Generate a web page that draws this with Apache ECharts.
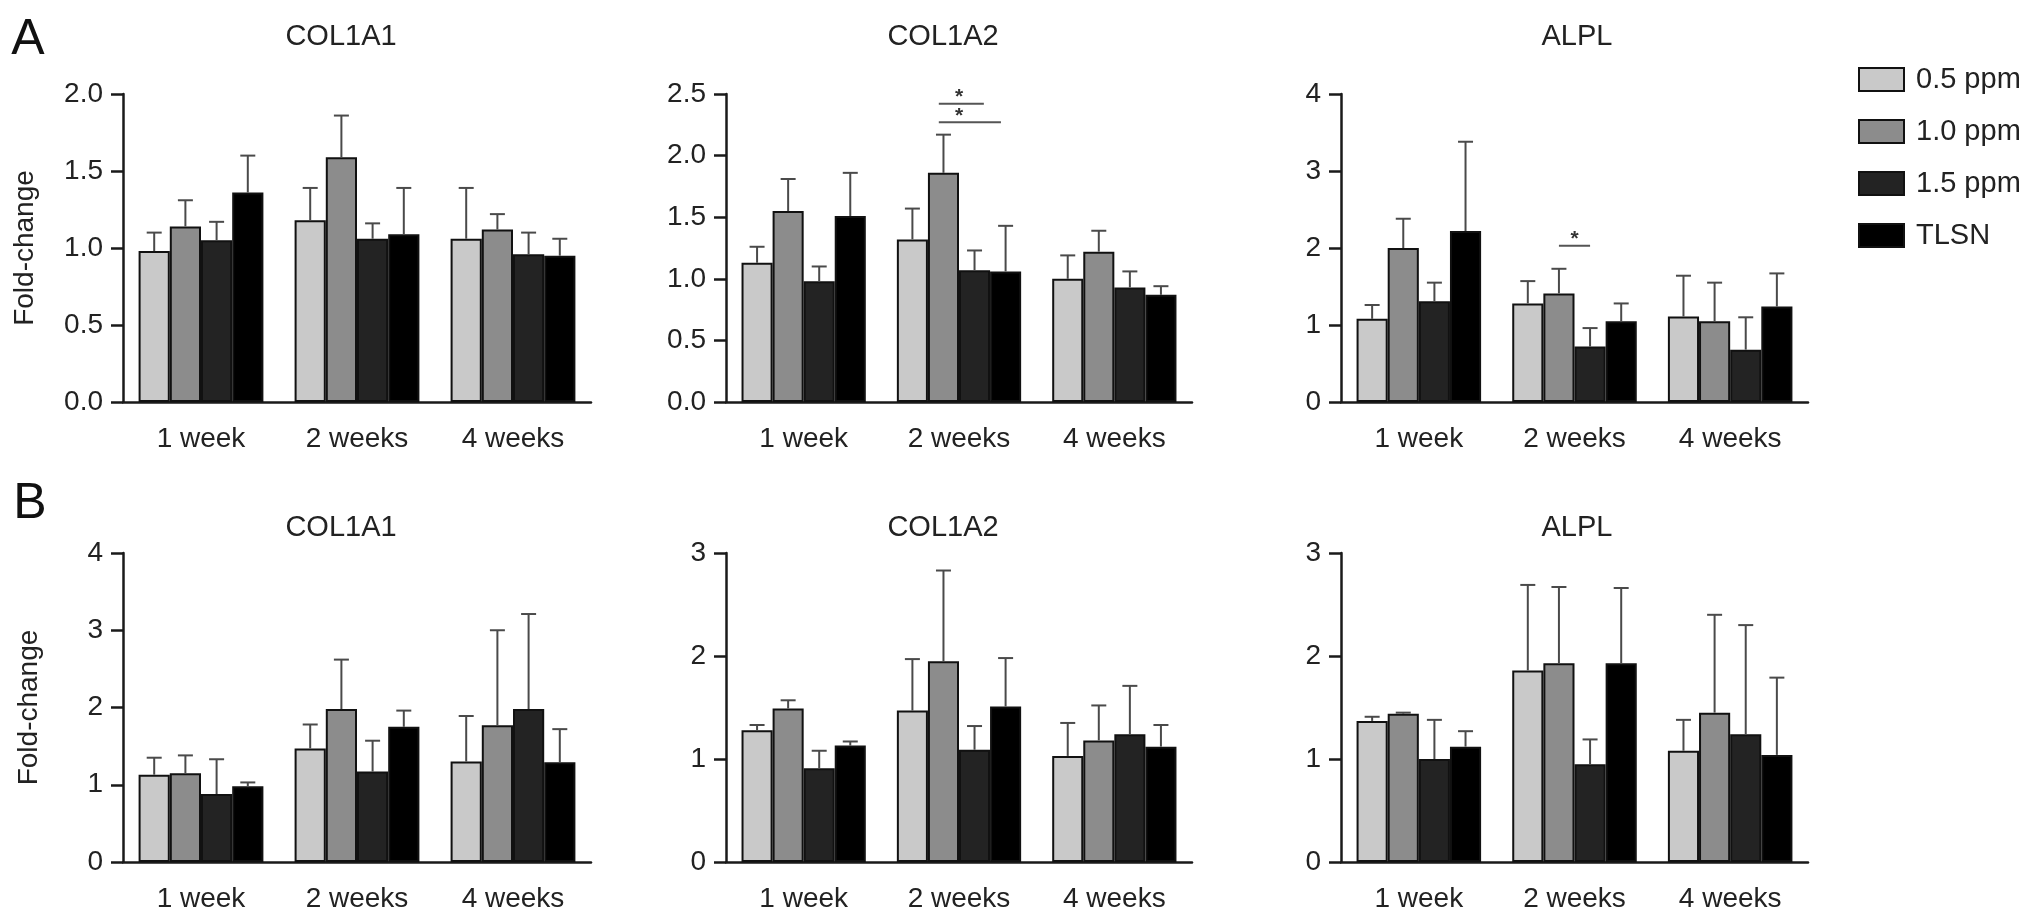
<!DOCTYPE html>
<html>
<head>
<meta charset="utf-8">
<script src="https://cdn.jsdelivr.net/npm/echarts@6/dist/echarts.min.js"></script>
<style>html,body{margin:0;padding:0;background:#fff;}#c{width:2032px;height:922px;}</style>
</head>
<body>
<div id="c"></div>
<script>
// ---------- data ----------
const categories = ['1 week', '2 weeks', '4 weeks'];
const seriesNames = ['0.5 ppm', '1.0 ppm', '1.5 ppm', 'TLSN'];
const barColors = ['#c9c9c9', '#8c8c8c', '#232323', '#000000'];

// Panel A - COL1A1 (rows = series, cols = categories)
const aCol1a1Mean  = [[0.98, 1.18, 1.06], [1.14, 1.59, 1.12], [1.05, 1.06, 0.96], [1.36, 1.09, 0.95]];
const aCol1a1Upper = [[1.10, 1.39, 1.39], [1.31, 1.86, 1.22], [1.17, 1.16, 1.10], [1.60, 1.39, 1.06]];
// Panel A - COL1A2
const aCol1a2Mean  = [[1.13, 1.32, 1.00], [1.55, 1.86, 1.22], [0.98, 1.07, 0.93], [1.51, 1.06, 0.87]];
const aCol1a2Upper = [[1.26, 1.57, 1.19], [1.81, 2.17, 1.39], [1.10, 1.23, 1.06], [1.86, 1.43, 0.94]];
// Panel A - ALPL
const aAlplMean    = [[1.08, 1.28, 1.11], [2.00, 1.41, 1.05], [1.31, 0.72, 0.68], [2.22, 1.05, 1.24]];
const aAlplUpper   = [[1.26, 1.57, 1.64], [2.38, 1.73, 1.55], [1.55, 0.96, 1.10], [3.38, 1.28, 1.67]];
// Panel B - COL1A1
const bCol1a1Mean  = [[1.13, 1.47, 1.30], [1.15, 1.98, 1.77], [0.88, 1.17, 1.98], [0.98, 1.75, 1.29]];
const bCol1a1Upper = [[1.35, 1.78, 1.89], [1.38, 2.62, 3.00], [1.33, 1.57, 3.21], [1.03, 1.96, 1.72]];
// Panel B - COL1A2
const bCol1a2Mean  = [[1.28, 1.47, 1.03], [1.49, 1.95, 1.18], [0.91, 1.09, 1.24], [1.13, 1.51, 1.12]];
const bCol1a2Upper = [[1.33, 1.97, 1.35], [1.57, 2.83, 1.52], [1.08, 1.32, 1.71], [1.17, 1.98, 1.33]];
// Panel B - ALPL
const bAlplMean    = [[1.37, 1.86, 1.08], [1.44, 1.93, 1.45], [1.00, 0.95, 1.24], [1.12, 1.93, 1.04]];
const bAlplUpper   = [[1.41, 2.69, 1.38], [1.45, 2.67, 2.40], [1.38, 1.19, 2.30], [1.27, 2.66, 1.79]];

// significance brackets: [category index, y value, from bar, to bar, star bar position]
const aCol1a2Sig = [[1, 2.42, 0.85, 2.3, 1.5], [1, 2.27, 0.85, 2.85, 1.5]];
const aAlplSig   = [[1, 2.03, 1, 2, 1.5]];

// axis ranges: [max, interval, decimals]
const yRanges = [[2, 0.5, 1], [2.5, 0.5, 1], [4, 1, 0], [4, 1, 0], [3, 1, 0], [3, 1, 0]];
const panelTitles = ['COL1A1', 'COL1A2', 'ALPL', 'COL1A1', 'COL1A2', 'ALPL'];

// ---------- layout ----------
const FONT = 'Liberation Sans, Arial, Helvetica, sans-serif';
const colLeft = [123, 726, 1341];
const colWidth = [468, 466, 467];
const rowTop = [94, 553];
const rowHeight = [308, 309];
const titleX = [341, 943, 1577];
const titleY = [37, 528];

const panels = [
  {mean: aCol1a1Mean, upper: aCol1a1Upper, sig: null},
  {mean: aCol1a2Mean, upper: aCol1a2Upper, sig: aCol1a2Sig},
  {mean: aAlplMean, upper: aAlplUpper, sig: aAlplSig},
  {mean: bCol1a1Mean, upper: bCol1a1Upper, sig: null},
  {mean: bCol1a2Mean, upper: bCol1a2Upper, sig: null},
  {mean: bAlplMean, upper: bAlplUpper, sig: null}
];

const BAR_FRAC = 0.8; // barCategoryGap 20%
const grids = [], xAxes = [], yAxes = [], series = [], graphics = [];

panels.forEach((p, i) => {
  const r = Math.floor(i / 3), c = i % 3;
  grids.push({left: colLeft[c], top: rowTop[r], width: colWidth[c], height: rowHeight[r]});
  xAxes.push({
    type: 'category', gridIndex: i, data: categories,
    axisLine: {lineStyle: {color: '#1a1a1a', width: 2.5}},
    axisTick: {alignWithLabel: true, length: 11, lineStyle: {color: '#1a1a1a', width: 2.5}},
    axisLabel: {color: '#222', fontSize: 28, fontFamily: FONT, margin: 23}
  });
  const yr = yRanges[i];
  yAxes.push({
    type: 'value', gridIndex: i, min: 0, max: yr[0], interval: yr[1],
    name: c === 0 ? 'Fold-change' : '', nameLocation: 'middle', nameGap: r === 0 ? 84 : 80,
    nameTextStyle: {color: '#222', fontSize: 28, fontFamily: FONT},
    splitLine: {show: false},
    axisLine: {show: true, lineStyle: {color: '#1a1a1a', width: 2.5}},
    axisTick: {show: true, length: 12, lineStyle: {color: '#1a1a1a', width: 2.5}},
    axisLabel: {color: '#222', fontSize: 28, fontFamily: FONT, margin: 20,
      formatter: v => v.toFixed(yr[2])}
  });
  p.mean.forEach((vals, s) => {
    series.push({
      type: 'bar', name: seriesNames[s], xAxisIndex: i, yAxisIndex: i, data: vals,
      barGap: '0%', barCategoryGap: '20%',
      itemStyle: {color: barColors[s], borderColor: '#111', borderWidth: 2},
      z: 2
    });
  });
  // error bars (upper only)
  const errData = [];
  p.mean.forEach((vals, s) => vals.forEach((v, k) => errData.push([k, s, v, p.upper[s][k]])));
  series.push({
    type: 'custom', xAxisIndex: i, yAxisIndex: i, data: errData, z: 3,
    encode: {x: 0, y: 3},
    renderItem: (params, api) => {
      const cat = api.value(0), s = api.value(1);
      const base = api.coord([cat, api.value(2)]);
      const top = api.coord([cat, api.value(3)]);
      const band = api.size([1, 0])[0];
      const bw = band * BAR_FRAC / 4;
      const x = base[0] + (s - 1.5) * bw;
      const cap = 15;
      const st = {stroke: '#4a4a4a', lineWidth: 2};
      return {type: 'group', children: [
        {type: 'line', shape: {x1: x, y1: base[1], x2: x, y2: top[1]}, style: st},
        {type: 'line', shape: {x1: x - cap / 2, y1: top[1], x2: x + cap / 2, y2: top[1]}, style: st}
      ]};
    }
  });
  if (p.sig) {
    series.push({
      type: 'custom', xAxisIndex: i, yAxisIndex: i, data: p.sig, z: 4,
      encode: {x: 0, y: 1},
      renderItem: (params, api) => {
        const cat = api.value(0);
        const pt = api.coord([cat, api.value(1)]);
        const band = api.size([1, 0])[0];
        const bw = band * BAR_FRAC / 4;
        const x1 = pt[0] + (api.value(2) - 1.5) * bw;
        const x2 = pt[0] + (api.value(3) - 1.5) * bw;
        const xs = pt[0] + (api.value(4) - 1.5) * bw;
        return {type: 'group', children: [
          {type: 'line', shape: {x1: x1, y1: pt[1], x2: x2, y2: pt[1]}, style: {stroke: '#555', lineWidth: 2}},
          {type: 'text', x: xs, y: pt[1] + 4,
            style: {text: '*', fill: '#333', font: 'bold 21px ' + FONT, textAlign: 'center', textVerticalAlign: 'bottom'}}
        ]};
      }
    });
  }
  graphics.push({type: 'text', x: titleX[c], y: titleY[r],
    style: {text: panelTitles[i], fill: '#222', font: '29px ' + FONT, textAlign: 'center', textVerticalAlign: 'middle'}});
});

graphics.push({type: 'text', x: 28, y: 40,
  style: {text: 'A', fill: '#111', font: '50px ' + FONT, textAlign: 'center', textVerticalAlign: 'middle'}});
graphics.push({type: 'text', x: 30, y: 504,
  style: {text: 'B', fill: '#111', font: '50px ' + FONT, textAlign: 'center', textVerticalAlign: 'middle'}});

const chart = echarts.init(document.getElementById('c'), null, {renderer: 'canvas'});
chart.setOption({
  animation: false,
  backgroundColor: '#fff',
  grid: grids, xAxis: xAxes, yAxis: yAxes, series: series,
  graphic: graphics,
  legend: {
    data: seriesNames, orient: 'vertical', left: 1853, top: 60,
    itemWidth: 45, itemHeight: 23, itemGap: 23, icon: 'rect',
    itemStyle: {borderColor: '#111', borderWidth: 2},
    textStyle: {color: '#222', fontSize: 29, fontFamily: FONT, padding: [0, 0, 0, 7]},
    selectedMode: false
  }
});
</script>
</body>
</html>
